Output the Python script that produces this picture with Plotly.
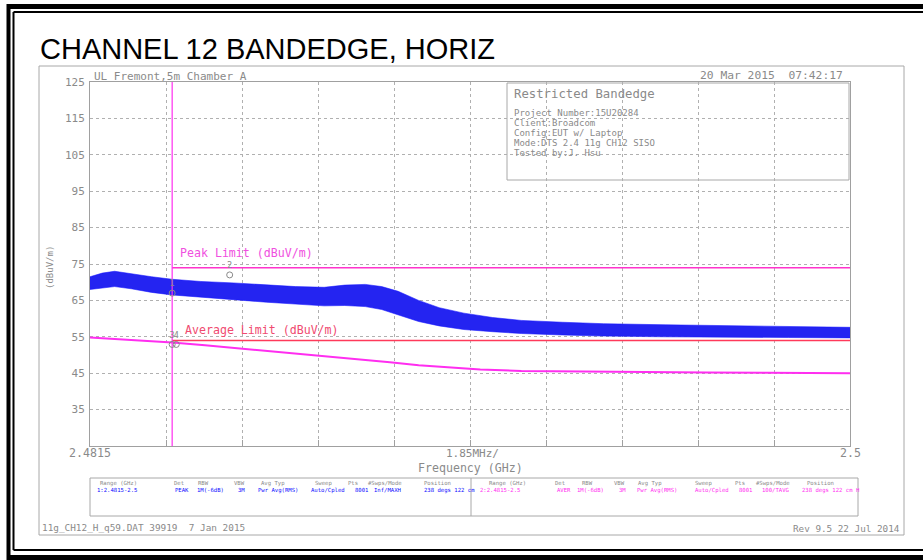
import plotly.graph_objects as go

# ---------------- data ----------------
env_freq = [2.4815, 2.4818, 2.4821, 2.4825, 2.4830, 2.4835, 2.4842, 2.4850, 2.4858,
            2.4865, 2.4872, 2.4877, 2.4882, 2.4886, 2.4890, 2.4895, 2.4900, 2.4906,
            2.4913, 2.4920, 2.4930, 2.4940, 2.4955, 2.4970, 2.4985, 2.5000]
peak_hi = [71.5, 72.5, 73.0, 72.3, 71.5, 70.8, 70.2, 69.8, 69.2,
           68.8, 68.6, 69.2, 69.4, 68.8, 67.5, 65.0, 63.0, 61.5,
           60.3, 59.5, 59.0, 58.6, 58.3, 58.0, 57.8, 57.6]
peak_lo = [68.0, 68.5, 68.8, 68.2, 67.2, 66.5, 65.8, 65.2, 64.5,
           64.0, 63.5, 63.6, 63.3, 62.5, 61.0, 59.2, 58.0, 57.0,
           56.4, 55.9, 55.5, 55.2, 55.0, 54.8, 54.8, 54.7]

avg_freq = [2.4815, 2.4820, 2.4825, 2.4830, 2.4835, 2.4843, 2.4850, 2.4858, 2.4865,
            2.4873, 2.4880, 2.4888, 2.4895, 2.4903, 2.4910, 2.4920, 2.4935, 2.4950,
            2.4965, 2.4980, 2.5000]
avg_val = [54.8, 54.5, 54.2, 53.8, 53.4, 52.7, 52.0, 51.2, 50.4,
           49.6, 48.8, 48.0, 47.2, 46.5, 46.0, 45.6, 45.4, 45.3,
           45.2, 45.1, 45.0]

limit_freq = [2.4835, 2.5000]
peak_limit = [74, 74]
avg_limit = [54, 54]
bandedge_freq = [2.4835, 2.4835]
bandedge_db = [25, 125]

mk_freq = [2.4835, 2.4849, 2.4835, 2.4836]
mk_db = [67.0, 72.0, 52.9, 52.9]
mk_text = ["1", "2", "3", "4"]

y_ticks = [35, 45, 55, 65, 75, 85, 95, 105, 115, 125]
x_start, x_stop, x_div = 2.4815, 2.5, 0.00185

hdr = ["Range (GHz)", "Det", "RBW", "VBW", "Avg Typ", "Sweep", "Pts", "#Swps/Mode", "Position"]
left_vals = ["1:2.4815-2.5", "PEAK", "1M(-6dB)", "3M", "Pwr Avg(RMS)", "Auto/Cpled", "8001", "Inf/MAXH", "238 degs 122 cm"]
right_vals = ["2:2.4815-2.5", "AVER", "1M(-6dB)", "3M", "Pwr Avg(RMS)", "Auto/Cpled", "8001", "100/TAVG", "238 degs 122 cm H"]
info_lines = ["Project Number:15U20284", "Client:Broadcom", "Config:EUT w/ Laptop",
              "Mode:DTS 2.4 11g CH12 SISO", "Tested by:J. Hsu"]

# ---------------- layout helpers (pixel -> paper) ----------------
W, H = 923, 560
L, R, T, B = 90, 850, 82, 446
def px(x): return (x - L) / (R - L)
def py(y): return (B - y) / (B - T)

MONO = "DejaVu Sans Mono"
GRAY = "#8a8a8a"
BLUE = "#0a0aff"
MAG = "#ff2ef0"
PLIM = "#ff33cc"
ALIM = "#ff3a5a"

fig = go.Figure()

# blue peak trace as envelope band (textured to look like a noisy sweep)
fig.add_trace(go.Scatter(x=env_freq, y=peak_lo, mode="lines",
                         line=dict(color="rgba(20,20,255,0.7)", width=0.8),
                         hoverinfo="skip", showlegend=False))
fig.add_trace(go.Scatter(x=env_freq, y=peak_hi, mode="lines", fill="tonexty",
                         fillpattern=dict(shape="|", size=2, solidity=0.5,
                                          fgcolor="#0000c8", bgcolor="#3030ff"),
                         line=dict(color="rgba(20,20,255,0.7)", width=0.8), showlegend=False))
# average trace
fig.add_trace(go.Scatter(x=avg_freq, y=avg_val, mode="lines",
                         line=dict(color=MAG, width=2), showlegend=False))
# limits and bandedge
fig.add_trace(go.Scatter(x=limit_freq, y=peak_limit, mode="lines",
                         line=dict(color=PLIM, width=1.5), showlegend=False))
fig.add_trace(go.Scatter(x=limit_freq, y=avg_limit, mode="lines",
                         line=dict(color=ALIM, width=1.5), showlegend=False))
fig.add_trace(go.Scatter(x=bandedge_freq, y=bandedge_db, mode="lines",
                         line=dict(color=MAG, width=1.2), showlegend=False))
# markers
fig.add_trace(go.Scatter(x=mk_freq, y=mk_db, mode="markers+text", text=mk_text,
                         textposition="top center",
                         textfont=dict(family=MONO, size=8.5, color=GRAY),
                         marker=dict(symbol="circle-open", size=6, color=GRAY, line=dict(width=1)),
                         showlegend=False))

shapes = []
def rect(x0, y0, x1, y1, color, width):
    shapes.append(dict(type="rect", xref="paper", yref="paper",
                       x0=px(x0), x1=px(x1), y0=py(y1), y1=py(y0),
                       line=dict(color=color, width=width), layer="below"))
def line(x0, y0, x1, y1, color, width):
    shapes.append(dict(type="line", xref="paper", yref="paper",
                       x0=px(x0), x1=px(x1), y0=py(y0), y1=py(y1),
                       line=dict(color=color, width=width)))

# outer black frame
line(7, 6.5, 930, 6.5, "black", 5)
line(8.5, 4, 8.5, 560, "black", 4)
line(7, 557.5, 930, 557.5, "black", 5)
line(13.5, 12, 930, 12, "black", 2)
line(13.5, 12, 13.5, 550, "black", 2)
line(13.5, 550, 930, 550, "black", 2)
# gray panel
rect(39, 66, 904, 535, "#a8a8a8", 1)
# info box
rect(507, 83, 849, 180, "#a8a8a8", 1)
# table box
rect(90, 478, 858, 516, "#a8a8a8", 1)
line(471, 478, 471, 516, "#a8a8a8", 1)

ann = []
def text(x, y, s, size, color=GRAY, xanchor="left", family=MONO, angle=0):
    ann.append(dict(x=px(x), y=py(y), xref="paper", yref="paper", text=s, showarrow=False,
                    xanchor=xanchor, yanchor="middle", textangle=angle,
                    font=dict(family=family, size=size, color=color)))

text(38, 49, "CHANNEL 12 BANDEDGE, HORIZ", 29, "black", family="Liberation Sans, Arial")
text(92, 76, "UL Fremont,5m Chamber A", 11)
text(845, 75, "20 Mar 2015  07:42:17", 11.3, xanchor="right")
text(512, 94, "Restricted Bandedge", 12.3)
for i, s in enumerate(info_lines):
    text(512, 113 + i * 10, s, 9)
text(178, 252.5, "Peak Limit (dBuV/m)", 11.6, "#f050e0")
text(183, 330, "Average Limit (dBuV/m)", 11.6, "#f04a70")
text(50, 268, "(dBuV/m)", 9, angle=-90, xanchor="center")
text(90, 453, "2.4815", 11.6, xanchor="center")
text(472, 453, "1.85MHz/", 11, xanchor="center")
text(850, 453, "2.5", 11.6, xanchor="center")
text(470, 468, "Frequency (GHz)", 11.6, xanchor="center")

lh = [118, 179, 203, 239, 273, 323, 353, 385, 437]
lv = [95, 173, 195, 236, 256, 309, 353, 372, 422]
rh = [507, 560, 587, 619, 650, 703, 740, 773, 820]
rv = [478, 555, 575, 617, 635, 693, 737, 760, 800]
for i in range(len(hdr)):
    text(lh[i], 483, hdr[i], 5.6, xanchor="center")
    text(lv[i], 490, left_vals[i], 5.6, BLUE)
    text(rh[i], 483, hdr[i], 5.6, xanchor="center")
    text(rv[i], 490, right_vals[i], 5.6, MAG)

text(40, 527, "11g_CH12_H_q59.DAT 39919  7 Jan 2015", 9.4)
text(902, 528, "Rev 9.5 22 Jul 2014", 9.3, xanchor="right")

fig.update_layout(
    width=W, height=H,
    margin=dict(l=L, r=W - R, t=T, b=H - B, pad=0),
    paper_bgcolor="white", plot_bgcolor="white",
    shapes=shapes, annotations=ann, showlegend=False,
    xaxis=dict(range=[x_start, x_stop], tick0=x_start, dtick=x_div, showticklabels=False,
               showgrid=True, gridcolor="#b0b0b0", griddash="dot", gridwidth=1,
               ticks="inside", ticklen=6, tickcolor="#a0a0a0",
               showline=True, linecolor="#a0a0a0", linewidth=1, mirror=True, zeroline=False),
    yaxis=dict(range=[25, 125], tickvals=y_ticks, ticktext=[str(v) for v in y_ticks],
               tickfont=dict(family=MONO, size=11, color=GRAY), ticklabelstandoff=2,
               showgrid=True, gridcolor="#b0b0b0", griddash="dot", gridwidth=1,
               showline=True, linecolor="#a0a0a0", linewidth=1, mirror=True, zeroline=False),
)

fig.write_html("out.html", config={"displayModeBar": False},
               post_script="document.body.style.margin='0px';document.body.style.overflow='hidden';")
